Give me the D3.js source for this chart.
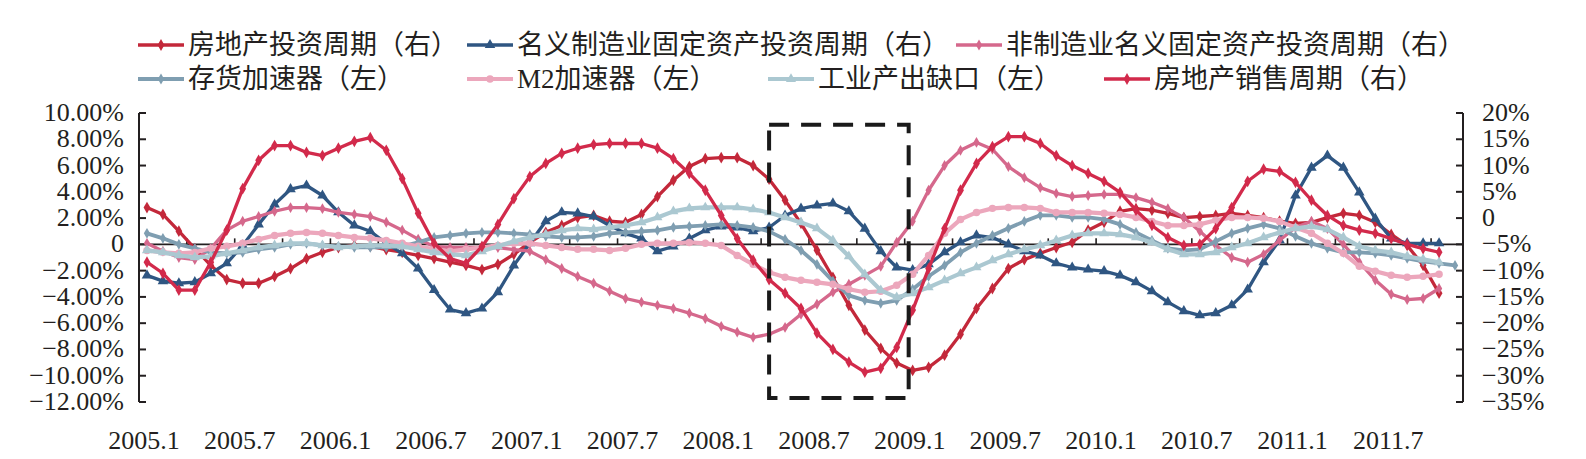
<!DOCTYPE html>
<html>
<head>
<meta charset="utf-8">
<script src="https://cdn.jsdelivr.net/npm/d3@7"></script>
<style>
  body { margin: 0; background: #fff; }
  text { font-family: "Liberation Serif", "Noto Sans CJK SC", serif; fill: #231f20; }
</style>
</head>
<body>
<svg id="chart" width="1586" height="459"></svg>
<script>
// months 2005.1 .. 2011.11
let months = []
for (let y = 2005; y <= 2011; y++) {
  for (let m = 1; m <= 12; m++) {
    if (y === 2011 && m > 11) break
    months.push(y + '.' + m)
  }
}
const xTickLabels = ['2005.1','2005.7','2006.1','2006.7','2007.1','2007.7','2008.1','2008.7','2009.1','2009.7','2010.1','2010.7','2011.1','2011.7']
const leftTicks = [10,8,6,4,2,0,-2,-4,-6,-8,-10,-12]
const rightTicks = [20,15,10,5,0,-5,-10,-15,-20,-25,-30,-35]

// right axis series (%)
const invest = [2.0,0.7,-2.5,-5.8,-9.0,-11.7,-12.4,-12.4,-11.1,-9.6,
  -7.7,-6.5,-5.6,-5.2,-5.4,-6.0,-6.5,-7.1,-7.7,-8.4,
  -9.0,-9.8,-8.8,-6.9,-4.6,-2.7,-1.4,0.1,0.5,-0.6,
  -0.8,0.7,4.1,7.2,9.8,11.3,11.5,11.5,10.0,7.4,
  3.4,-1.0,-6.1,-11.3,-16.6,-21.3,-24.8,-27.6,-29.0,-28.4,
  -26.1,-22.1,-17.2,-13.4,-9.6,-7.9,-6.7,-5.6,-4.6,-2.3,
  -0.8,1.3,1.8,1.5,0.9,0.1,0.3,0.5,0.9,0.5,
  0.1,-0.6,-1.0,-0.8,0.1,0.9,0.5,-0.8,-3.1,-5.2,
  -9.0,-14.3]
const mfg = [-10.9,-12.0,-12.4,-12.2,-10.5,-8.6,-5.2,-1.2,2.6,5.5,
  6.2,4.3,1.1,-1.4,-2.5,-4.8,-6.7,-9.6,-13.7,-17.4,
  -18.1,-17.2,-14.1,-9.0,-4.8,-0.6,1.1,0.9,0.3,-1.4,
  -2.9,-3.9,-6.3,-5.4,-3.9,-2.3,-1.6,-1.8,-2.5,-1.8,
  0.5,1.8,2.4,2.8,1.3,-2.0,-6.3,-9.4,-9.9,-8.8,
  -6.5,-4.6,-3.3,-3.7,-5.0,-6.3,-7.1,-8.6,-9.4,-9.8,
  -10.1,-10.9,-12.2,-13.9,-16.0,-17.7,-18.5,-18.1,-16.6,-13.6,
  -8.4,-4.2,4.3,9.6,11.9,9.6,4.9,-0.1,-3.9,-4.8,
  -4.8,-4.8]
const nonMfg = [-4.8,-6.3,-7.5,-7.9,-5.8,-2.3,-0.6,0.3,1.3,2.0,
  2.0,1.8,1.1,0.7,0.3,-0.8,-2.3,-4.0,-5.4,-5.6,
  -5.6,-5.6,-5.6,-6.0,-6.3,-7.9,-9.6,-11.1,-12.4,-13.9,
  -15.3,-16.0,-16.6,-17.2,-18.1,-19.1,-20.6,-21.7,-22.7,-22.1,
  -20.8,-18.3,-16.4,-14.1,-12.6,-10.9,-9.2,-4.6,-0.6,5.3,
  10.0,12.9,14.4,13.1,9.8,7.7,5.8,4.7,4.1,4.3,
  4.5,4.5,3.9,3.0,1.8,0.1,-2.5,-5.2,-7.5,-8.4,
  -6.9,-4.2,-1.8,-0.6,-2.0,-5.0,-8.4,-11.8,-14.5,-15.5,
  -15.3,-13.4]
const sales = [-8.4,-10.5,-13.7,-13.7,-8.4,-2.3,5.6,11.0,13.8,13.8,
  12.5,11.9,13.3,14.6,15.3,12.9,7.5,0.9,-4.8,-7.7,
  -8.6,-5.4,-1.2,3.7,7.9,10.4,12.3,13.3,14.0,14.2,
  14.2,14.2,13.3,11.3,8.5,5.3,0.5,-3.9,-8.0,-11.7,
  -14.3,-17.2,-21.9,-25.0,-27.4,-29.3,-28.6,-24.6,-17.5,-9.6,
  -2.0,5.3,10.4,13.6,15.5,15.5,14.2,11.9,10.0,8.5,
  7.0,4.9,1.5,-1.4,-3.7,-5.2,-5.0,-2.0,2.0,7.0,
  9.3,8.9,6.8,3.4,0.5,-1.4,-2.3,-2.9,-3.9,-5.0,
  -5.8,-6.5]

// left axis series (%)
const inventory = [0.84,0.46,0,-0.30,-0.61,-0.68,-0.61,-0.38,-0.23,0,
  0.08,-0.08,-0.15,-0.23,-0.23,-0.23,-0.15,0.15,0.53,0.68,
  0.84,0.91,0.91,0.84,0.76,0.61,0.53,0.53,0.61,0.84,
  0.91,0.99,1.06,1.29,1.37,1.44,1.52,1.44,1.29,0.99,
  0.38,-0.46,-1.52,-2.81,-3.88,-4.26,-4.49,-4.26,-3.42,-2.43,
  -1.60,-0.61,0.08,0.68,1.22,1.75,2.21,2.21,2.05,2.05,
  1.90,1.52,0.91,0.30,-0.30,-0.46,-0.38,0.23,0.84,1.22,
  1.52,1.22,0.61,0.08,-0.30,-0.61,-0.61,-0.68,-0.84,-1.06,
  -1.29,-1.44,-1.60]
const m2 = [-0.46,-0.61,-0.68,-0.61,-0.30,-0.15,0.08,0.38,0.68,0.84,
  0.91,0.84,0.68,0.53,0.46,0.30,0.08,-0.15,-0.38,-0.53,
  -0.38,-0.23,-0.08,0.08,0.08,-0.08,-0.23,-0.38,-0.38,-0.46,
  -0.30,0,0.08,0.08,0.15,0.08,-0.08,-0.84,-1.52,-2.13,
  -2.51,-2.74,-2.89,-3.04,-3.42,-3.65,-3.57,-3.12,-2.28,-0.84,
  0.84,1.90,2.43,2.74,2.81,2.81,2.74,2.43,2.43,2.43,
  2.36,2.28,2.05,1.75,1.44,1.44,1.52,1.83,2.05,2.05,
  1.98,1.75,1.29,0.84,0.08,-0.68,-1.67,-2.05,-2.36,-2.51,
  -2.43,-2.28]
const outputGap = [-0.46,-0.61,-0.84,-0.99,-0.91,-0.68,-0.46,-0.23,-0.08,0.08,
  0.08,-0.08,-0.23,-0.15,-0.08,-0.08,-0.15,-0.38,-0.61,-0.76,
  -0.84,-0.53,-0.15,0.23,0.53,0.76,1.06,1.22,1.14,1.29,
  1.44,1.67,2.05,2.51,2.74,2.81,2.81,2.81,2.66,2.43,
  2.05,1.67,1.22,0.30,-0.91,-2.28,-3.50,-4.03,-3.73,-3.27,
  -2.74,-2.21,-1.75,-1.22,-0.76,-0.38,-0.08,0.30,0.68,0.84,
  0.84,0.76,0.53,0.15,-0.38,-0.76,-0.76,-0.61,-0.23,0.08,
  0.53,0.91,1.22,1.37,1.14,0.53,-0.15,-0.46,-0.61,-0.91,
  -1.14,-1.37]

// highlighted window
const boxFrom = '2008.4', boxTo = '2009.1', boxTop = 9.1, boxBottom = -11.7

const svg = d3.select('#chart')
const plotLeft = 139, plotRight = 1463, plotTop = 113, plotBottom = 402

const x = d3.scaleBand().domain(months).range([plotLeft, plotRight])
const cx = m => x(m) + x.bandwidth() / 2
const yL = d3.scaleLinear().domain([-12, 10]).range([plotBottom, plotTop])
const yR = d3.scaleLinear().domain([-35, 20]).range([plotBottom, plotTop])

const series = [
  {name: '房地产投资周期（右）', data: invest, y: yR, color: '#c3283a', sym: d3.symbolDiamond, size: 40, w: 3.3, row: 0, lx: 138},
  {name: '名义制造业固定资产投资周期（右）', data: mfg, y: yR, color: '#2f5682', sym: d3.symbolTriangle, size: 48, w: 3.3, row: 0, lx: 467},
  {name: '非制造业名义固定资产投资周期（右）', data: nonMfg, y: yR, color: '#d5688c', sym: d3.symbolDiamond, size: 34, w: 3.3, row: 0, lx: 956},
  {name: '存货加速器（左）', data: inventory, y: yL, color: '#7f9eb1', sym: d3.symbolDiamond, size: 34, w: 3.8, row: 1, lx: 138},
  {name: 'M2加速器（左）', data: m2, y: yL, color: '#eca7bc', sym: d3.symbolCircle, size: 44, w: 4.2, row: 1, lx: 467},
  {name: '工业产出缺口（左）', data: outputGap, y: yL, color: '#abc8d1', sym: d3.symbolTriangle, size: 44, w: 4.2, row: 1, lx: 768},
  {name: '房地产销售周期（右）', data: sales, y: yR, color: '#d22a4b', sym: d3.symbolDiamond, size: 40, w: 3.3, row: 1, lx: 1104}
]

// axes
const axisG = svg.append('g')
axisG.append('line').attr('x1', plotLeft).attr('x2', plotLeft).attr('y1', plotTop).attr('y2', plotBottom)
  .attr('stroke', '#231f20').attr('stroke-width', 2)
axisG.append('line').attr('x1', plotRight).attr('x2', plotRight).attr('y1', plotTop).attr('y2', plotBottom)
  .attr('stroke', '#231f20').attr('stroke-width', 2)

axisG.selectAll('line.lt').data(leftTicks).enter().append('line').attr('class', 'lt')
  .attr('x1', plotLeft).attr('x2', plotLeft + 7).attr('y1', d => yL(d)).attr('y2', d => yL(d))
  .attr('stroke', '#231f20').attr('stroke-width', 2)
axisG.selectAll('text.lt').data(leftTicks).enter().append('text').attr('class', 'lt')
  .attr('x', 124).attr('y', d => yL(d) + 8).attr('text-anchor', 'end').attr('font-size', 26)
  .text(d => d === 0 ? '0' : (d < 0 ? '\u2212' : '') + Math.abs(d).toFixed(2) + '%')

axisG.selectAll('line.rt').data(rightTicks).enter().append('line').attr('class', 'rt')
  .attr('x1', plotRight - 7).attr('x2', plotRight).attr('y1', d => yR(d)).attr('y2', d => yR(d))
  .attr('stroke', '#231f20').attr('stroke-width', 2)
axisG.selectAll('text.rt').data(rightTicks).enter().append('text').attr('class', 'rt')
  .attr('x', 1482).attr('y', d => yR(d) + 8).attr('font-size', 26)
  .text(d => d === 0 ? '0' : (d < 0 ? '\u2212' : '') + Math.abs(d) + '%')

// zero line with quarterly ticks
axisG.append('line').attr('x1', plotLeft).attr('x2', plotRight).attr('y1', yL(0)).attr('y2', yL(0))
  .attr('stroke', '#231f20').attr('stroke-width', 1.6)
axisG.selectAll('line.xt').data(months.filter((m, i) => i % 3 === 0 && i > 0)).enter().append('line').attr('class', 'xt')
  .attr('x1', d => x(d)).attr('x2', d => x(d)).attr('y1', yL(0)).attr('y2', yL(0) - 6)
  .attr('stroke', '#231f20').attr('stroke-width', 1.6)
axisG.selectAll('text.xl').data(xTickLabels).enter().append('text').attr('class', 'xl')
  .attr('x', d => cx(d) - 3).attr('y', 449).attr('text-anchor', 'middle').attr('font-size', 26)
  .text(d => d)

// series
const lineG = svg.append('g')
series.forEach(s => {
  let pts = s.data.map((v, i) => [cx(months[i]), s.y(v)])
  lineG.append('path').attr('d', d3.line()(pts))
    .attr('fill', 'none').attr('stroke', s.color).attr('stroke-width', s.w).attr('stroke-linejoin', 'round')
  lineG.selectAll(null).data(pts).enter().append('path')
    .attr('transform', d => `translate(${d[0]},${d[1]})`)
    .attr('d', d3.symbol().type(s.sym).size(s.size))
    .attr('fill', s.color)
})

// dashed window
svg.append('rect')
  .attr('x', cx(boxFrom)).attr('y', yL(boxTop))
  .attr('width', cx(boxTo) - cx(boxFrom) - 4).attr('height', yL(boxBottom) - yL(boxTop))
  .attr('fill', 'none').attr('stroke', '#1a1a1a').attr('stroke-width', 4).attr('stroke-dasharray', '20,12')

// legend
const legendG = svg.append('g')
const rowY = [45, 79]
series.forEach(s => {
  let g = legendG.append('g').attr('transform', `translate(${s.lx},${rowY[s.row]})`)
  g.append('line').attr('x1', 0).attr('x2', 46).attr('stroke', s.color).attr('stroke-width', s.w)
  g.append('path').attr('transform', 'translate(23,0)').attr('d', d3.symbol().type(s.sym).size(s.size)).attr('fill', s.color)
  g.append('text').attr('x', 50).attr('y', 9).attr('font-size', 27).text(s.name)
})
</script>
</body>
</html>
